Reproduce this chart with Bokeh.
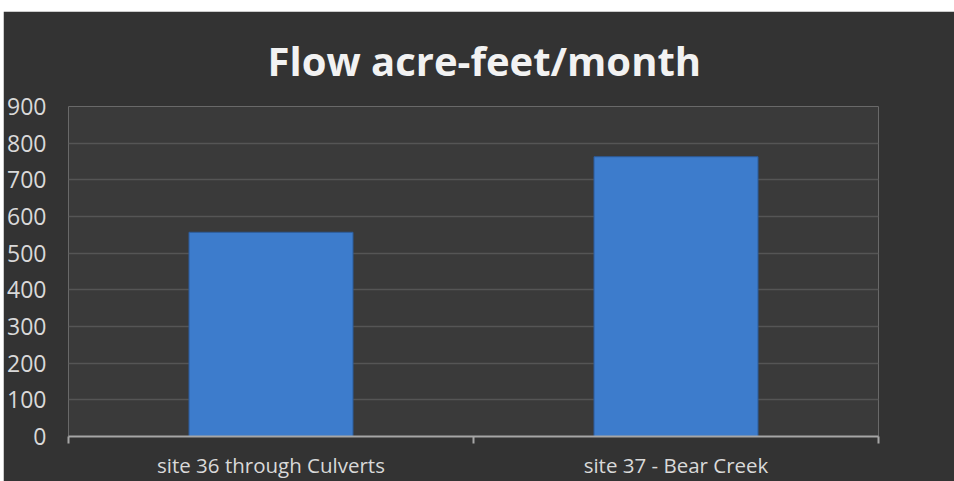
from bokeh.plotting import figure
from bokeh.models import Range1d, FixedTicker, Spacer
from bokeh.layouts import column, row
from bokeh.embed import file_html
from bokeh.resources import INLINE

# ---- data ----
categories = ["site 36 through Culverts", "site 37 - Bear Creek"]
flow = [557, 763]
y_ticks = [0, 100, 200, 300, 400, 500, 600, 700, 800, 900]
title_text = "Flow acre-feet/month"

positions = [i + 0.5 for i in range(len(categories))]
boundaries = list(range(len(categories) + 1))

p = figure(width=951, height=470, output_backend="svg", toolbar_location=None,
           x_range=Range1d(0, len(categories)), y_range=Range1d(0, y_ticks[-1]),
           min_border_left=65, min_border_right=76, min_border_top=95, min_border_bottom=44,
           title=title_text)

p.background_fill_color = "#3a3a3a"
p.border_fill_color = "#333333"
p.outline_line_color = None

p.vbar(x=positions, top=flow, bottom=0, width=0.405,
       fill_color="#3d7ccc", line_color="#2d5c9a", line_width=1)

# title
p.title.text_font = "Open Sans"
p.title.text_font_style = "bold"
p.title.text_font_size = "40px"
p.title.text_color = "#f2f2f2"
p.title.align = "left"
p.title.offset = 199
p.title.standoff = 38

# y axis
ya = p.yaxis[0]
ya.ticker = FixedTicker(ticks=y_ticks, minor_ticks=[])
ya.axis_line_color = None
ya.major_tick_line_color = None
ya.major_tick_out = 0
ya.major_tick_in = 0
ya.minor_tick_line_color = None
ya.major_label_standoff = 22
ya.major_label_text_font = "Open Sans"
ya.major_label_text_font_size = "23px"
ya.major_label_text_color = "#d9d9d9"

# x axis
xa = p.xaxis[0]
xa.ticker = FixedTicker(ticks=positions, minor_ticks=boundaries)
xa.major_label_overrides = {pos: cat for pos, cat in zip(positions, categories)}
xa.axis_line_color = "#a6a6a6"
xa.axis_line_width = 2
xa.major_tick_out = 0
xa.major_tick_in = 0
xa.major_tick_line_color = None
xa.minor_tick_out = 7
xa.minor_tick_in = 0
xa.minor_tick_line_color = "#a6a6a6"
xa.minor_tick_line_width = 2
xa.major_label_standoff = 7
xa.major_label_text_font = "Open Sans"
xa.major_label_text_font_size = "20.5px"
xa.major_label_text_color = "#d9d9d9"

p.xgrid.visible = False
p.ygrid.grid_line_color = "#555555"
p.ygrid.grid_line_width = 1.5

layout = column(Spacer(height=11), row(Spacer(width=3), p))
open("out.html", "w").write(file_html(layout, INLINE))
